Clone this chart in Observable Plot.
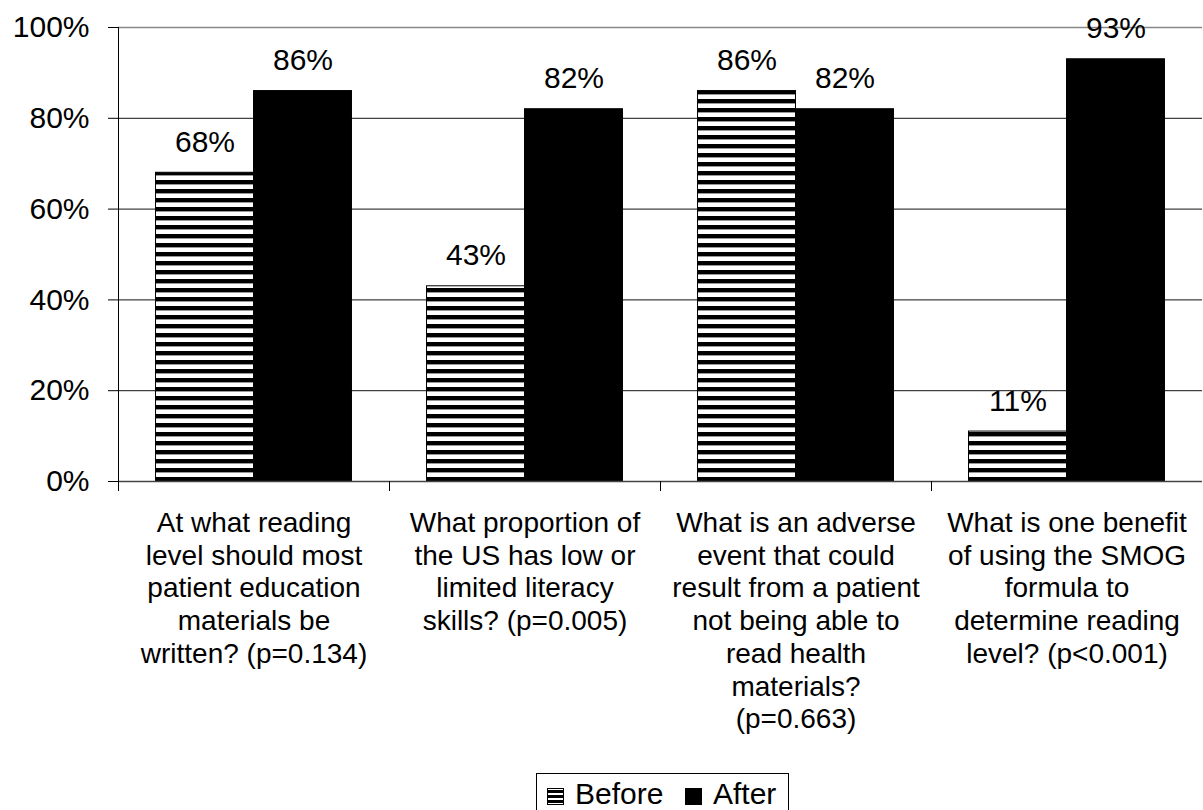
<!DOCTYPE html>
<html>
<head>
<meta charset="utf-8">
<script src="https://cdn.jsdelivr.net/npm/d3@7"></script>
<script src="https://cdn.jsdelivr.net/npm/@observablehq/plot@0.6"></script>
<style>
  body { margin: 0; background: #fff; font-family: "Liberation Sans", Arial, sans-serif; }
  #chart { position: relative; width: 1203px; height: 810px; overflow: hidden; }
  #chart > svg.plot { position: absolute; left: 0; top: 0; }
  #legend { position: absolute; left: 536px; top: 773px; }
</style>
</head>
<body>
<div id="chart"></div>
<script>
// Survey questions (x categories), as wrapped under each group
const questions = [
  "At what reading\nlevel should most\npatient education\nmaterials be\nwritten? (p=0.134)",
  "What proportion of\nthe US has low or\nlimited literacy\nskills? (p=0.005)",
  "What is an adverse\nevent that could\nresult from a patient\nnot being able to\nread health\nmaterials?\n(p=0.663)",
  "What is one benefit\nof using the SMOG\nformula to\ndetermine reading\nlevel? (p<0.001)"
];
const series = ["Before", "After"];
// Percent answering correctly
const beforeValues = [68, 43, 86, 11];
const afterValues = [86, 82, 82, 93];
const yTicks = [0, 20, 40, 60, 80, 100];

const rows = questions.flatMap((q, i) => [
  {question: q, series: "Before", value: beforeValues[i]},
  {question: q, series: "After", value: afterValues[i]}
]);

const font = '"Liberation Sans", Arial, sans-serif';

const chart = Plot.plot({
  width: 1203,
  height: 770,
  marginTop: 27,
  marginBottom: 289,
  marginLeft: 118,
  marginRight: 1,
  style: {fontFamily: font, color: "#000", background: "transparent", overflow: "visible"},
  fx: {domain: questions, padding: 0, axis: null},
  x: {domain: series, paddingInner: 0, paddingOuter: 0.383, axis: null, round: false},
  y: {domain: [0, 100]},
  color: {domain: series, range: ["url(#stripes)", "#000"]},
  marks: [
    // horizontal gridlines
    Plot.ruleY(yTicks.filter(d => d > 0 && d < 100), {stroke: "#111", strokeWidth: 1}),
    Plot.ruleY([100], {stroke: "#888", strokeWidth: 1.6}),
    // grouped bars
    Plot.barY(rows, {
      fx: "question", x: "series", y: "value",
      fill: "series", stroke: "#000", strokeWidth: 1
    }),
    // value labels above bars
    Plot.text(rows, {
      fx: "question", x: "series", y: "value",
      text: d => `${d.value}%`,
      lineAnchor: "bottom", dy: -21, fontSize: 30, fill: "#000"
    }),
    // baseline
    Plot.ruleY([0], {stroke: "#444", strokeWidth: 1.5}),
    // vertical axis line (leftmost group only)
    Plot.frame({anchor: "left", facetAnchor: "left", insetBottom: -9, stroke: "#000"}),
    // category separator ticks below the baseline
    Plot.frame({anchor: "left", insetTop: 454, insetBottom: -9, stroke: "#000"}),
    Plot.axisY({
      ticks: yTicks, tickFormat: d => `${d}%`,
      tickSize: 10, tickPadding: 19, fontSize: 30, stroke: "#000", label: null
    }),
    // question labels under each group
    Plot.text(questions, {
      fx: d => d, text: d => d,
      frameAnchor: "bottom", lineAnchor: "top", dy: 27,
      fontSize: 28, lineHeight: 1.17, fill: "#000"
    })
  ]
});

// horizontal stripe fill for the "Before" bars
const defs = d3.select(chart).insert("defs", ":first-child");
const pat = defs.append("pattern")
  .attr("id", "stripes")
  .attr("patternUnits", "userSpaceOnUse")
  .attr("x", 0).attr("y", 4)
  .attr("width", 8).attr("height", 9);
pat.append("rect").attr("x", 0).attr("y", 0).attr("width", 8).attr("height", 9).attr("fill", "#fff");
pat.append("rect").attr("x", 0).attr("y", 0).attr("width", 8).attr("height", 1).attr("fill", "#999");
pat.append("rect").attr("x", 0).attr("y", 5).attr("width", 8).attr("height", 4).attr("fill", "#000");

document.getElementById("chart").appendChild(chart);

// legend below the chart
const legend = d3.select("#chart").append("svg")
  .attr("id", "legend")
  .attr("width", 254).attr("height", 37)
  .style("font-family", font);
const lp = legend.append("defs").append("pattern")
  .attr("id", "stripes-small")
  .attr("patternUnits", "userSpaceOnUse")
  .attr("width", 6).attr("height", 5).attr("y", 15);
lp.append("rect").attr("width", 6).attr("height", 5).attr("fill", "#fff");
lp.append("rect").attr("y", 2).attr("width", 6).attr("height", 3).attr("fill", "#000");
legend.append("rect")
  .attr("x", 0.5).attr("y", 0.5).attr("width", 252).attr("height", 60)
  .attr("fill", "#fff").attr("stroke", "#000");
const swatchFill = {Before: "url(#stripes-small)", After: "#000"};
const itemX = {Before: 11, After: 149};
for (const s of series) {
  const g = legend.append("g").attr("transform", `translate(${itemX[s]},0)`);
  g.append("rect").attr("x", 0.5).attr("y", 15.5).attr("width", 16).attr("height", 16)
    .attr("fill", swatchFill[s]).attr("stroke", "#000");
  g.append("text").attr("x", 28).attr("y", 31)
    .attr("font-size", 30).attr("fill", "#000").text(s);
}
</script>
</body>
</html>
